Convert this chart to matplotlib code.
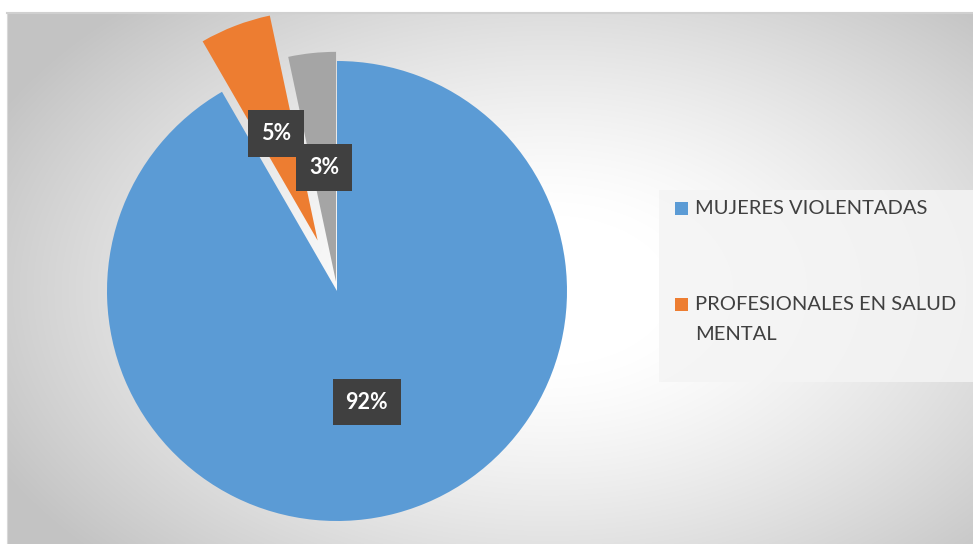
import numpy as np
import matplotlib.pyplot as plt
from matplotlib.patches import Rectangle

plt.rcParams['font.family'] = ['Lato', 'DejaVu Sans']

# data (counts, shown as percentages)
categories = ['MUJERES VIOLENTADAS', 'PROFESIONALES EN SALUD\nMENTAL', 'OTROS']
values = [55, 3, 2]
colors = ['#5B9BD5', '#ED7D31', '#A5A5A5']
explode = [0.0, 0.235, 0.04]

W, H = 973, 544
fig = plt.figure(figsize=(W / 100, H / 100), dpi=100)

# background with soft elliptical gradient (white in the middle, grey at the edges)
bg = fig.add_axes([7 / W, 0, 1 - 7 / W, 1 - 13 / H])
yy, xx = np.mgrid[0:H - 13, 7:W]
rr = np.hypot((xx - 550) / 480, (yy + 13 - 290) / 300)
shade = 255 - 60 * np.clip((rr - 0.25) / 1.05, 0, 1) ** 1.3
img = np.dstack([shade, shade, shade]).astype(np.uint8)
bg.imshow(img, aspect='auto', interpolation='bilinear')
bg.set_xticks([])
bg.set_yticks([])
for s in bg.spines.values():
    s.set_visible(False)
bg.spines['top'].set_visible(True)
bg.spines['top'].set_color('#d0d0d0')
bg.spines['top'].set_linewidth(1.5)
bg.spines['left'].set_visible(True)
bg.spines['left'].set_color('#d8d8d8')

# pie axes, radius 230 px centred at (337, 291)
ax = fig.add_axes([0, 0, 1, 1])
ax.patch.set_visible(False)

wedges, texts, autotexts = ax.pie(
    values, colors=colors, explode=explode, startangle=90, counterclock=False,
    autopct=lambda p: f'{p:.0f}%', pctdistance=0.5, radius=1.0,
    textprops=dict(color='white', fontsize=15.5, fontweight='bold'),
    wedgeprops=dict(linewidth=0))
for t in autotexts:
    t.set_bbox(dict(boxstyle='square,pad=0.6', facecolor='#404040', edgecolor='none'))

r = 230.0
cx, cy = 337.0, 291.0
ax.set_aspect('auto')
ax.set_xlim(-cx / r, (W - cx) / r)
ax.set_ylim(-(H - cy) / r, cy / r)
ax.axis('off')

# legend box (only two entries are visible in the original)
fig.patches.append(Rectangle((659 / W, 1 - 382 / H), (W - 659) / W, 192 / H,
                             transform=fig.transFigure, facecolor='#f4f4f4',
                             edgecolor='none', alpha=0.85, zorder=1))
for i, ytop in enumerate([202, 298]):
    fig.patches.append(Rectangle((675 / W, 1 - (ytop + 13) / H), 13 / W, 13 / H,
                                 transform=fig.transFigure, facecolor=colors[i],
                                 edgecolor='none', zorder=2))
    fig.text(695 / W, 1 - (ytop + 6.5) / H, categories[i].split('\n')[0],
             fontsize=14.5, color='#404040', va='center', ha='left')
    for k, extra in enumerate(categories[i].split('\n')[1:]):
        fig.text(695 / W, 1 - (ytop + 6.5 + 30 * (k + 1)) / H, extra,
                 fontsize=14.5, color='#404040', va='center', ha='left')

fig.savefig('out.png', dpi=100)
